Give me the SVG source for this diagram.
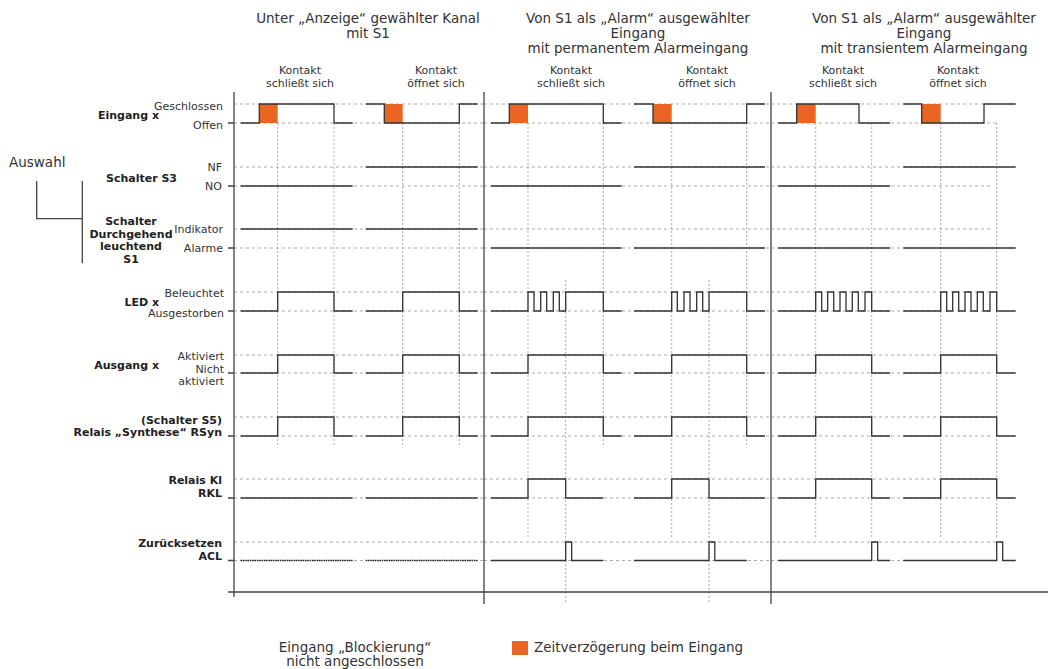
<svg xmlns="http://www.w3.org/2000/svg" width="1048" height="669" viewBox="0 0 1048 669">
<style>
text{font-family:"DejaVu Sans","Liberation Sans",sans-serif;fill:#333}
.h{font-size:13.5px}
.s{font-size:11px}
.b{font-size:11px;font-weight:bold;fill:#222}
.r{text-anchor:end}
.m{text-anchor:middle}
.sig{fill:none;stroke:#333;stroke-width:1.3}
.dot{fill:none;stroke:#222;stroke-width:1.5;stroke-dasharray:1.5 0.8}
.gh{fill:none;stroke:#aaa;stroke-width:1;stroke-dasharray:3 3}
.gv{fill:none;stroke:#aaa;stroke-width:1;stroke-dasharray:2 2}
.ax{fill:none;stroke:#444;stroke-width:1.3}
.or{fill:#EA6524}
</style>
<rect width="1048" height="669" fill="#fff"/>

<g id="headers">
<text class="h m" x="368" y="23">Unter „Anzeige“ gewählter Kanal</text>
<text class="h m" x="368" y="38">mit S1</text>
<text class="h m" x="638" y="23">Von S1 als „Alarm“ ausgewählter</text>
<text class="h m" x="638" y="38">Eingang</text>
<text class="h m" x="638" y="53">mit permanentem Alarmeingang</text>
<text class="h m" x="924" y="23">Von S1 als „Alarm“ ausgewählter</text>
<text class="h m" x="924" y="38">Eingang</text>
<text class="h m" x="924" y="53">mit transientem Alarmeingang</text>
<text class="s m" x="300" y="74">Kontakt</text>
<text class="s m" x="300" y="87">schließt sich</text>
<text class="s m" x="436" y="74">Kontakt</text>
<text class="s m" x="436" y="87">öffnet sich</text>
<text class="s m" x="571" y="74">Kontakt</text>
<text class="s m" x="571" y="87">schließt sich</text>
<text class="s m" x="707" y="74">Kontakt</text>
<text class="s m" x="707" y="87">öffnet sich</text>
<text class="s m" x="843" y="74">Kontakt</text>
<text class="s m" x="843" y="87">schließt sich</text>
<text class="s m" x="958" y="74">Kontakt</text>
<text class="s m" x="958" y="87">öffnet sich</text>
</g>

<g id="grid">
<path class="gh" d="M234,104H484M234,123H484M234,167H484M234,186H484M234,229H484M234,248H484M234,292H484M234,311H484M234,355H484M234,373H484M234,417H484M234,436H484M234,479H484M234,498H484M234,542H484M234,560.5H484"/>
<path class="gh" d="M484,104H771M484,123H771M484,167H771M484,186H771M484,229H771M484,248H771M484,292H771M484,311H771M484,355H771M484,373H771M484,417H771M484,436H771M484,479H771M484,498H771M484,542H771M484,560.5H771"/>
<path class="gh" d="M771,104H993M771,123H997M771,167H993M771,186H993M771,229H993M771,248H993M771,292H993M771,311H993M771,355H993M771,373H993M771,417H993M771,436H993M771,479H993M771,498H993M771,542H997M771,560.5H993"/>
<path class="gv" d="M277.7,123V447M334,123V447M402.7,123V447M459.3,123V447"/>
<path class="gv" d="M528,123V537M671.7,123V537M603.3,123V446M746.7,123V446M565.7,280V604M709,280V604"/>
<path class="gv" d="M815.7,123V537M871.7,123V537M940.7,123V537M996.7,123V537"/>
</g>

<g id="axes">
<path class="ax" d="M234,92V597M484,92V604M771,92V604"/>
<path class="ax" d="M228,592H1048" stroke-width="1.6"/>
<path class="ax" d="M228,123H234M228,186H234M228,248H234M228,311H234M228,373H234M228,436H234M228,498H234M228,560.5H234"/>
</g>

<g id="row-eingang">
<text class="s r" x="223" y="110">Geschlossen</text>
<text class="b r" x="159" y="119">Eingang x</text>
<text class="s r" x="223" y="129">Offen</text>
</g>
<g id="auswahl">
<text class="h" x="9" y="167">Auswahl</text>
<path class="ax" d="M36.7,181V218.7H82.3M82.3,181V263.3"/>
</g>
<g id="row-s3">
<text class="s r" x="222" y="171">NF</text>
<text class="b" x="106" y="182">Schalter S3</text>
<text class="s r" x="222" y="190">NO</text>
</g>
<g id="row-s1">
<text class="b m" x="131" y="225">Schalter</text>
<text class="b m" x="131" y="237.5">Durchgehend</text>
<text class="b m" x="131" y="250">leuchtend</text>
<text class="b m" x="131" y="262.5">S1</text>
<text class="s r" x="223" y="233">Indikator</text>
<text class="s r" x="223" y="252">Alarme</text>
</g>
<g id="row-led">
<text class="s r" x="224" y="297">Beleuchtet</text>
<text class="b r" x="159" y="306">LED x</text>
<text class="s r" x="224" y="317">Ausgestorben</text>
</g>
<g id="row-ausgang">
<text class="s r" x="224" y="360">Aktiviert</text>
<text class="b r" x="159" y="369">Ausgang x</text>
<text class="s r" x="224" y="373">Nicht</text>
<text class="s r" x="224" y="385">aktiviert</text>
</g>
<g id="row-rsyn">
<text class="b r" x="222" y="424">(Schalter S5)</text>
<text class="b r" x="222" y="436">Relais „Synthese“ RSyn</text>
</g>
<g id="row-rkl">
<text class="b r" x="222" y="484">Relais Kl</text>
<text class="b r" x="222" y="497">RKL</text>
</g>
<g id="row-acl">
<text class="b r" x="222" y="547">Zurücksetzen</text>
<text class="b r" x="222" y="560">ACL</text>
</g>

<g id="delays">
<rect class="or" x="259.3" y="104" width="18.4" height="19"/>
<rect class="or" x="384.3" y="104" width="18.4" height="19"/>
<rect class="or" x="509.3" y="104" width="18.7" height="19"/>
<rect class="or" x="653" y="104" width="18.7" height="19"/>
<rect class="or" x="796.7" y="104" width="19" height="19"/>
<rect class="or" x="921.7" y="104" width="19" height="19"/>
</g>

<g id="signals">
<path class="sig" d="M240.7,123H259.3V104H334V123H352.7M365.7,104H384.3V123H459.3V104H477.7"/>
<path class="sig" d="M240.7,186H352.7M365.7,167H477.7"/>
<path class="sig" d="M240.7,229H352.7M365.7,229H477.7"/>
<path class="sig" d="M240.7,311H277.7V292H334V311H352.7M365.7,311H402.7V292H459.3V311H477.7"/>
<path class="sig" d="M240.7,373H277.7V355H334V373H352.7M365.7,373H402.7V355H459.3V373H477.7"/>
<path class="sig" d="M240.7,436H277.7V417H334V436H352.7M365.7,436H402.7V417H459.3V436H477.7"/>
<path class="sig" d="M240.7,498H352.7M365.7,498H477.7"/>
<path class="dot" d="M240.7,560.5H352.7M365.7,560.5H477.7"/>

<path class="sig" d="M491,123H509.3V104H603.3V123H621.7M634,104H653V123H746.7V104H765"/>
<path class="sig" d="M491,186H621.7M634,167H765"/>
<path class="sig" d="M491,248H621.7M634,248H765"/>
<path class="sig" d="M491,311H528V292H534V311H540.7V292H546.7V311H553.3V292H559.3V311H565.7V292H603.3V311H621.7M634,311H671.7V292H677.3V311H684V292H690V311H696.7V292H702.7V311H709V292H746.7V311H765"/>
<path class="sig" d="M491,373H528V355H603.3V373H621.7M634,373H671.7V355H746.7V373H765"/>
<path class="sig" d="M491,436H528V417H603.3V436H621.7M634,436H671.7V417H746.7V436H765"/>
<path class="sig" d="M491,498H528V479H565.7V498H603.3M634,498H671.7V479H709V498H765"/>
<path class="sig" d="M491,560.5H565.7V542H571.7V560.5H603.3M634,560.5H709V542H714.8V560.5H746.7"/>

<path class="sig" d="M778.3,123H796.7V104H859V123H890M903.3,104H921.7V123H984V104H1015.7"/>
<path class="sig" d="M778.3,186H890M903.3,167H1015.7"/>
<path class="sig" d="M778.3,248H890M903.3,248H1015.7"/>
<path class="sig" d="M778.3,311H815.7V292H821.7V311H827.7V292H833.7V311H840V292H846V311H852.3V292H858.3V311H865V292H871.7V311H890M903.3,311H940.7V292H946.7V311H952.7V292H958.7V311H965V292H971V311H977.3V292H983.3V311H990V292H996.7V311H1015.7"/>
<path class="sig" d="M778.3,373H815.7V355H871.7V373H890M903.3,373H940.7V355H996.7V373H1015.7"/>
<path class="sig" d="M778.3,436H815.7V417H871.7V436H890M903.3,436H940.7V417H996.7V436H1015.7"/>
<path class="sig" d="M778.3,498H815.7V479H871.7V498H890M903.3,498H940.7V479H996.7V498H1015.7"/>
<path class="sig" d="M778.3,560.5H871.7V542H877.7V560.5H890M903.3,560.5H996.7V542H1002.7V560.5H1015.7"/>
</g>

<g id="footer">
<text class="h m" x="355" y="652">Eingang „Blockierung“</text>
<text class="h m" x="355" y="666">nicht angeschlossen</text>
</g>
<g id="legend">
<rect class="or" x="512" y="641" width="16" height="14"/>
<text class="h" x="534" y="652">Zeitverzögerung beim Eingang</text>
</g>
</svg>
